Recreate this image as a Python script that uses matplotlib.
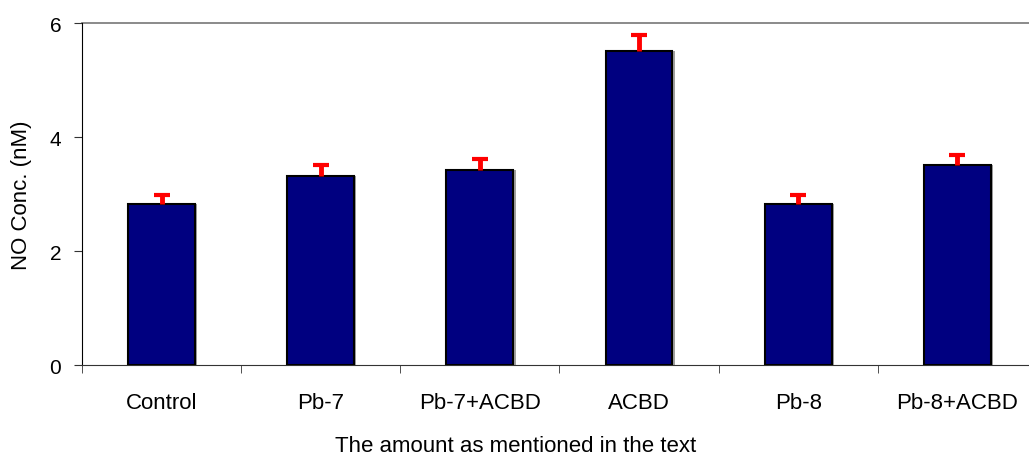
import matplotlib.pyplot as plt
import numpy as np

plt.rcParams['font.family'] = ['Liberation Sans', 'DejaVu Sans']

# values
groups = ['Control', 'Pb-7', 'Pb-7+ACBD', 'ACBD', 'Pb-8', 'Pb-8+ACBD']
no_conc = [2.82, 3.32, 3.42, 5.52, 2.82, 3.52]
err_up = [0.17, 0.2, 0.2, 0.28, 0.17, 0.17]

x = np.arange(len(groups))

fig = plt.figure(figsize=(10.29, 4.56), dpi=100)
ax = fig.add_axes([0.0797, 0.197, 0.9203, 0.75])

# light shadow then the bar itself
ax.bar(x + 0.014, no_conc, width=0.42, color='#a0a0a0', zorder=2)
ax.bar(x, no_conc, width=0.42, color='#000080', edgecolor='black', linewidth=1.5, zorder=3)
eb = ax.errorbar(x, no_conc, yerr=[np.zeros(len(x)), err_up], fmt='none',
                 ecolor='red', elinewidth=3.5, capsize=6, capthick=3, zorder=4)
# only the upper cap is drawn in the original
eb[1][0].set_visible(False)

ax.set_xlim(-0.5, 5.45)
ax.set_ylim(0, 6)
ax.set_yticks([0, 2, 4, 6])
ax.set_xticks(x)
ax.set_xticklabels(groups)
ax.set_xticks(np.arange(-0.5, 5.0, 1.0), minor=True)
ax.tick_params(axis='x', which='major', length=0, pad=19, labelsize=16)
ax.tick_params(axis='x', which='minor', length=6, direction='out', color='#333333')
ax.tick_params(axis='y', length=6, direction='out', pad=9, labelsize=15, color='#333333')

ax.axhline(6, color='#777777', linewidth=1.2, zorder=1, clip_on=False)
ax.spines['top'].set_visible(False)
ax.spines['right'].set_visible(False)
ax.spines['left'].set_color('black')
ax.spines['bottom'].set_color('#333333')

ax.set_ylabel('NO Conc. (nM)', fontsize=16)
ax.yaxis.set_label_coords(-0.053, 0.5)
ax.set_xlabel('The amount as mentioned in the text', fontsize=16)
ax.xaxis.set_label_coords(0.458, -0.204)

fig.savefig('out.png', dpi=100)
